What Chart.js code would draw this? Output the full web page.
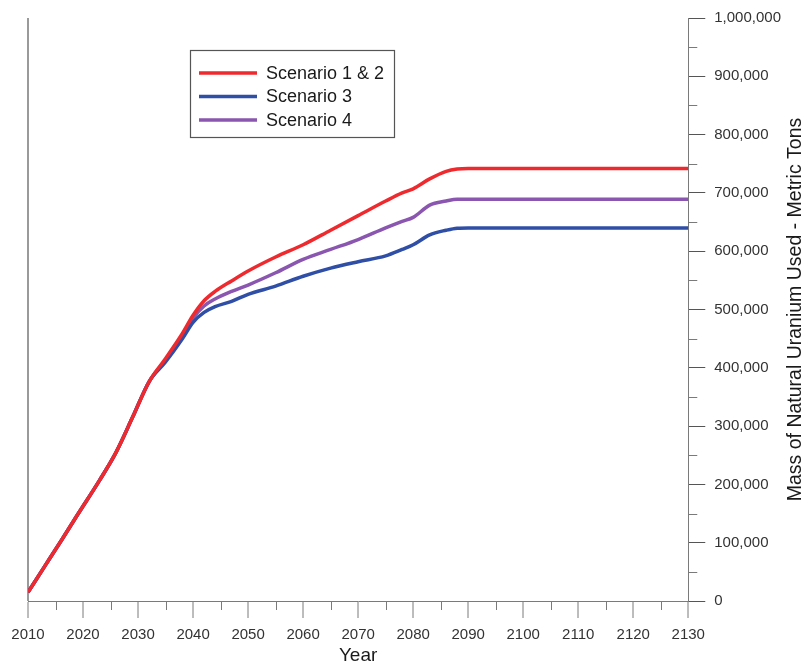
<!DOCTYPE html>
<html>
<head>
<meta charset="utf-8">
<script src="https://cdn.jsdelivr.net/npm/chart.js@4.4.1/dist/chart.umd.min.js"></script>
<style>
  html, body { margin: 0; padding: 0; background: #ffffff; }
  #wrap { position: relative; width: 808px; height: 663px; }
</style>
</head>
<body>
<div id="wrap"><canvas id="c" width="808" height="663"></canvas></div>
<script>
// ---- data ----
const years = [2010, 2013, 2016, 2019, 2023, 2026, 2029, 2032, 2035, 2038, 2040, 2042, 2044, 2047, 2050, 2055, 2060, 2065, 2070, 2075, 2078, 2080, 2083, 2086, 2088, 2090, 2100, 2110, 2120, 2130];
const scenario12 = [15000, 59000, 103000, 148000, 207000, 255000, 315000, 376000, 416000, 458000, 490000, 515000, 531000, 549000, 566000, 590000, 611000, 636000, 661000, 686000, 700000, 707000, 724000, 737000, 741000, 742000, 742000, 742000, 742000, 742000];
const scenario3  = [15000, 59000, 103000, 148000, 207000, 255000, 315000, 376000, 410000, 449000, 478000, 495000, 505000, 514000, 526000, 540000, 557000, 571000, 582000, 592000, 603000, 611000, 628000, 636000, 639500, 640000, 640000, 640000, 640000, 640000];
const scenario4  = [15000, 59000, 103000, 148000, 207000, 255000, 315000, 376000, 413000, 452000, 485000, 506000, 518000, 531000, 542000, 563000, 586000, 603000, 620000, 640000, 651000, 658000, 679000, 686000, 689000, 689000, 689000, 689000, 689000, 689000];
const seriesLabels = ['Scenario 1 & 2', 'Scenario 3', 'Scenario 4'];
const seriesColors = ['#ee2a2e', '#2f4ea6', '#8a56b0'];
const xTitle = 'Year';
const yTitle = 'Mass of Natural Uranium Used - Metric Tons';

const FONT = "'Liberation Sans', Arial, sans-serif";

function pts(vals) { return years.map((y, i) => ({ x: y, y: vals[i] })); }

const minorTicks = {
  id: 'minorTicks',
  afterDraw(chart) {
    const ctx = chart.ctx, xs = chart.scales.x, ys = chart.scales.y;
    ctx.save();
    ctx.strokeStyle = '#7a7a7a';
    ctx.lineWidth = 1;
    ctx.beginPath();
    for (let v = xs.min + 5; v < xs.max; v += 10) {
      const px = Math.round(xs.getPixelForValue(v)) + 0.5;
      ctx.moveTo(px, ys.bottom);
      ctx.lineTo(px, ys.bottom + 9);
    }
    for (let v = ys.min + 50000; v < ys.max; v += 100000) {
      const py = Math.round(ys.getPixelForValue(v)) + 0.5;
      ctx.moveTo(xs.right, py);
      ctx.lineTo(xs.right + 9, py);
    }
    ctx.stroke();
    ctx.restore();
  }
};

const axisTitles = {
  id: 'axisTitles',
  afterDraw(chart) {
    const ctx = chart.ctx, a = chart.chartArea;
    ctx.save();
    ctx.fillStyle = '#1a1a1a';
    ctx.textAlign = 'center';
    ctx.textBaseline = 'middle';
    ctx.font = '19px ' + FONT;
    ctx.fillText(xTitle, (a.left + a.right) / 2, a.bottom + 55);
    ctx.translate(chart.width - 12, (a.top + a.bottom) / 2);
    ctx.rotate(-Math.PI / 2);
    ctx.font = '19.5px ' + FONT;
    ctx.fillText(yTitle, 0, 0);
    ctx.restore();
  }
};

const boxLegend = {
  id: 'boxLegend',
  afterDraw(chart) {
    const ctx = chart.ctx, a = chart.chartArea;
    const bx = a.left + 162, by = a.top + 32, bw = 204, bh = 87;
    ctx.save();
    ctx.fillStyle = '#ffffff';
    ctx.fillRect(bx, by, bw, bh);
    ctx.strokeStyle = '#555555';
    ctx.lineWidth = 1.2;
    ctx.strokeRect(bx + 0.5, by + 0.5, bw, bh);
    ctx.font = '18px ' + FONT;
    ctx.textBaseline = 'middle';
    chart.data.datasets.forEach((ds, i) => {
      const ry = by + 23 + i * 23.5;
      ctx.strokeStyle = ds.borderColor;
      ctx.lineWidth = 3.5;
      ctx.beginPath();
      ctx.moveTo(bx + 9, ry);
      ctx.lineTo(bx + 67, ry);
      ctx.stroke();
      ctx.fillStyle = '#1a1a1a';
      ctx.fillText(ds.label, bx + 76, ry + 1);
    });
    ctx.restore();
  }
};

new Chart(document.getElementById('c'), {
  type: 'line',
  data: {
    datasets: [
      { label: seriesLabels[0], data: pts(scenario12), borderColor: seriesColors[0] },
      { label: seriesLabels[1], data: pts(scenario3), borderColor: seriesColors[1] },
      { label: seriesLabels[2], data: pts(scenario4), borderColor: seriesColors[2] }
    ].map(d => Object.assign(d, { borderWidth: 3.5, pointRadius: 0, fill: false, cubicInterpolationMode: 'monotone', backgroundColor: d.borderColor }))
  },
  options: {
    responsive: false,
    animation: false,
    layout: { padding: { left: 28, top: 18, right: 18, bottom: 11 } },
    plugins: { legend: { display: false }, tooltip: { enabled: false } },
    scales: {
      x: {
        type: 'linear', min: 2010, max: 2130,
        ticks: { stepSize: 10, color: '#333', font: { family: FONT, size: 15 }, padding: 8, maxRotation: 0, callback: v => String(v) },
        grid: { color: c => (c.index === 0 ? '#9a9a9a' : 'rgba(0,0,0,0)'), lineWidth: 2, drawOnChartArea: true, tickLength: 17, tickColor: '#7a7a7a', tickWidth: 1 },
        border: { display: true, color: '#7a7a7a', width: 1 }
      },
      y: {
        position: 'right', min: 0, max: 1000000,
        ticks: { stepSize: 100000, color: '#333', font: { family: FONT, size: 15 }, padding: 9, callback: v => v.toLocaleString('en-US') },
        grid: { drawOnChartArea: false, tickLength: 17, tickColor: '#555', tickWidth: 1 },
        border: { display: true, color: '#7a7a7a', width: 1 }
      }
    }
  },
  plugins: [minorTicks, axisTitles, boxLegend]
});
</script>
</body>
</html>
